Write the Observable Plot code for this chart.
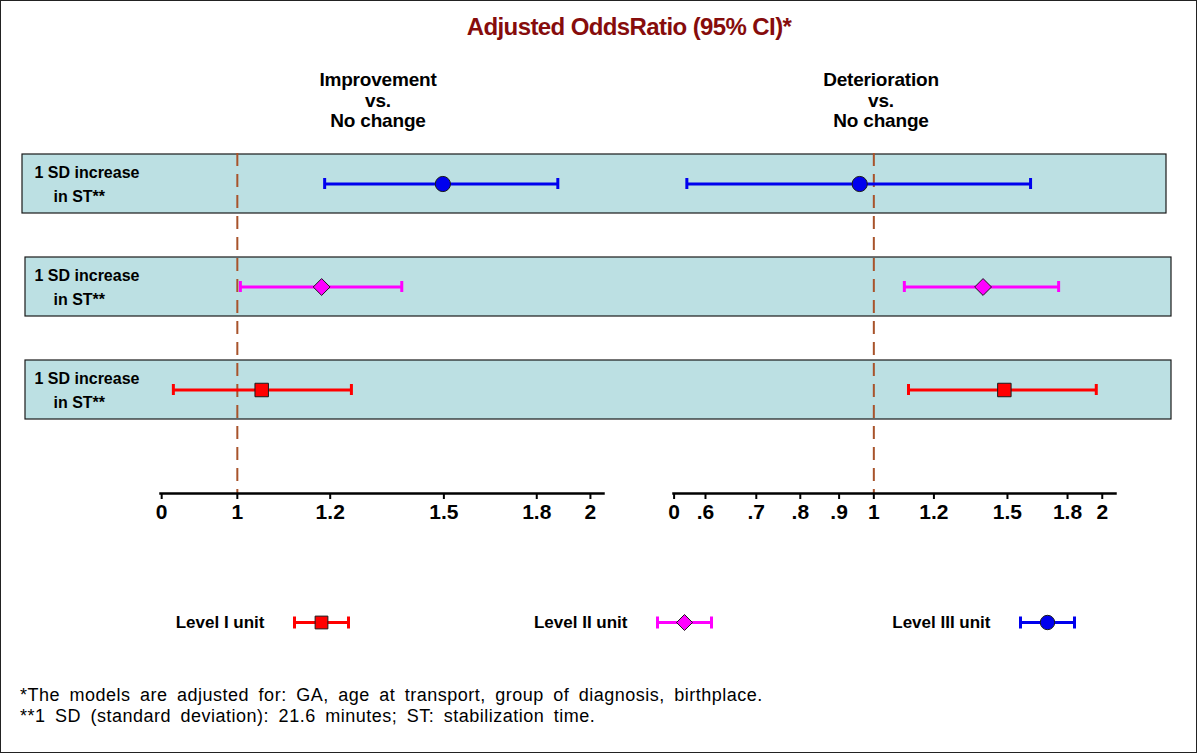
<!DOCTYPE html>
<html>
<head>
<meta charset="utf-8">
<script src="https://cdn.jsdelivr.net/npm/d3@7"></script>
<script src="https://cdn.jsdelivr.net/npm/@observablehq/plot@0.6"></script>
<style>
  html, body { margin: 0; padding: 0; background: #fff; }
  #frame { position: relative; width: 1200px; height: 754px; overflow: hidden; font-family: "Liberation Sans", Arial, sans-serif; color: #000; }
  #border { position: absolute; left: 0; top: 0; width: 1197px; height: 753px; box-sizing: border-box; border: 1.5px solid #222; pointer-events: none; }
  .abs { position: absolute; white-space: nowrap; }
  #title { left: 629px; top: 13px; transform: translateX(-50%); font-size: 24px; line-height: 28px; font-weight: bold; color: #860c0c; letter-spacing: -0.6px; }
  .head { top: 70px; transform: translateX(-50%); font-size: 19px; line-height: 20.7px; font-weight: bold; text-align: center; letter-spacing: -0.2px; }
  .foot { left: 20px; font-size: 18px; line-height: 21px; letter-spacing: 0.5px; word-spacing: 4px; }
</style>
</head>
<body>
<div id="frame">
  <div id="title" class="abs">Adjusted OddsRatio (95% CI)*</div>
  <div class="abs head" style="left:378px">Improvement<br>vs.<br>No change</div>
  <div class="abs head" style="left:881px">Deterioration<br>vs.<br>No change</div>
  <div class="abs foot" style="top:685px">*The models are adjusted for: GA, age at transport, group of diagnosis, birthplace.</div>
  <div class="abs foot" style="top:706px">**1 SD (standard deviation): 21.6 minutes; ST: stabilization time.</div>
  <div id="border"></div>
</div>
<script>
// ---- data ----
const levels = ["Level III unit", "Level II unit", "Level I unit"]; // rows, top to bottom
const legendOrder = ["Level I unit", "Level II unit", "Level III unit"];
const rowLine1 = ["1 SD increase", "1 SD increase", "1 SD increase"];
const rowLine2 = ["in ST**", "in ST**", "in ST**"];
const levelColors = ["#0000ee", "#ff00ff", "#ff0000"];
const levelSymbols = ["circle", "diamond2", "square"];

const improvementOR = [1.497, 1.180, 1.049];
const improvementLow = [1.187, 1.006, 0.882];
const improvementHigh = [1.876, 1.381, 1.251];

const deteriorationOR = [0.958, 1.393, 1.486];
const deteriorationLow = [0.567, 1.097, 1.111];
const deteriorationHigh = [1.609, 1.752, 1.964];

const leftTicks = [0.862, 1, 1.2, 1.5, 1.8, 2];
const leftTickLabels = ["0", "1", "1.2", "1.5", "1.8", "2"];
const rightTicks = [0.5455, 0.6, 0.7, 0.8, 0.9, 1, 1.2, 1.5, 1.8, 2];
const rightTickLabels = ["0", ".6", ".7", ".8", ".9", "1", "1.2", "1.5", "1.8", "2"];
const leftDomain = [0.860, 2.052];
const rightDomain = [0.5445, 2.082];
const referenceOR = [1];

// ---- shared config ----
const FONT = "'Liberation Sans', Arial, sans-serif";
const frame = document.getElementById("frame");
const border = document.getElementById("border");
const yScale = {domain: levels, range: [13, 281], paddingInner: 0.423, paddingOuter: 0, axis: null};
const colorScale = {domain: levels, range: levelColors};
const symbolScale = {domain: levels, range: levelSymbols};
const place = (svg, top) => { svg.style.position = "absolute"; svg.style.left = "0px"; svg.style.top = top + "px"; frame.insertBefore(svg, border); };

// ---- background: bands + row labels ----
const rows = levels.map((l, i) => ({level: l, line1: rowLine1[i], line2: rowLine2[i]}));
const bg = Plot.plot({
  width: 1200, height: 393, marginTop: 13, marginBottom: 40, marginLeft: 25, marginRight: 29,
  style: {background: "transparent", fontFamily: FONT, color: "#000", overflow: "visible"},
  x: {axis: null},
  y: yScale,
  marks: [
    Plot.cell(rows.slice(0, 1), {y: "level", fill: "#bce0e3", stroke: "#1a1a1a", strokeWidth: 1.2, insetLeft: -3, insetRight: 5}),
    Plot.cell(rows.slice(1), {y: "level", fill: "#bce0e3", stroke: "#1a1a1a", strokeWidth: 1.2}),
    Plot.text(rows, {y: "level", text: "line1", frameAnchor: "left", textAnchor: "start", dx: 9, dy: -10.8, fontSize: 16, fontWeight: "bold", fill: "#000"}),
    Plot.text(rows, {y: "level", text: "line2", frameAnchor: "left", textAnchor: "start", dx: 28, dy: 12.6, fontSize: 16, fontWeight: "bold", fill: "#000"})
  ]
});
place(bg, 140);

// ---- panels ----
function panel(est, low, high, ticks, labels, domain, mLeft, mRight) {
  const data = levels.map((l, i) => ({level: l, est: est[i], low: low[i], high: high[i]}));
  const tickData = ticks.map((t, i) => ({value: t, label: labels[i]}));
  return Plot.plot({
    width: 1200, height: 393, marginTop: 13, marginBottom: 40, marginLeft: mLeft, marginRight: mRight,
    style: {background: "transparent", fontFamily: FONT, color: "#000", overflow: "visible"},
    x: {type: "log", domain, label: null},
    y: yScale,
    color: colorScale,
    symbol: symbolScale,
    marks: [
      Plot.ruleX(referenceOR, {stroke: "#a8532b", strokeWidth: 2, strokeDasharray: "13,8"}),
      Plot.ruleY(data, {y: "level", x1: "low", x2: "high", stroke: "level", strokeWidth: 3}),
      Plot.tickX(data, {x: "low", y: "level", stroke: "level", strokeWidth: 3, insetTop: 24, insetBottom: 24}),
      Plot.tickX(data, {x: "high", y: "level", stroke: "level", strokeWidth: 3, insetTop: 24, insetBottom: 24}),
      Plot.dot(data, {x: "est", y: "level", symbol: "level", fill: "level", stroke: "#1a1a1a", strokeWidth: 1, r: 7.6}),
      Plot.frame({anchor: "bottom", strokeWidth: 2.5, stroke: "#000"}),
      Plot.axisX({ticks, tickFormat: () => "", tickSize: 6, strokeWidth: 2, stroke: "#000"}),
      Plot.text(tickData, {x: "value", text: "label", frameAnchor: "bottom", lineAnchor: "top", dy: 11, fontSize: 21, fontWeight: "bold", fill: "#000"})
    ]
  });
}
place(panel(improvementOR, improvementLow, improvementHigh, leftTicks, leftTickLabels, leftDomain, 160, 597), 140);
place(panel(deteriorationOR, deteriorationLow, deteriorationHigh, rightTicks, rightTickLabels, rightDomain, 673, 85), 140);

// ---- legend ----
const errbar = {
  draw(ctx) {
    const w = 27, h = 6;
    ctx.moveTo(-w, 0); ctx.lineTo(w, 0);
    ctx.moveTo(-w, -h); ctx.lineTo(-w, h);
    ctx.moveTo(w, -h); ctx.lineTo(w, h);
  }
};
const legend = Plot.plot({
  width: 1200, height: 44, margin: 0,
  style: {background: "transparent", fontFamily: FONT, color: "#000", overflow: "visible"},
  x: {type: "point", domain: legendOrder, range: [320.8, 1047.5], padding: 0, axis: null},
  color: colorScale,
  symbol: symbolScale,
  marks: [
    Plot.dot(legendOrder, {x: (d) => d, frameAnchor: "middle", symbol: errbar, stroke: (d) => d, fill: "none", strokeWidth: 3}),
    Plot.dot(legendOrder, {x: (d) => d, frameAnchor: "middle", symbol: (d) => d, fill: (d) => d, stroke: "#1a1a1a", strokeWidth: 1, r: 7.2}),
    Plot.text(legendOrder, {x: (d) => d, frameAnchor: "middle", text: (d) => d, textAnchor: "end", dx: -57, fontSize: 17, fontWeight: "bold", fill: "#000"})
  ]
});
place(legend, 599.5);
</script>
</body>
</html>
